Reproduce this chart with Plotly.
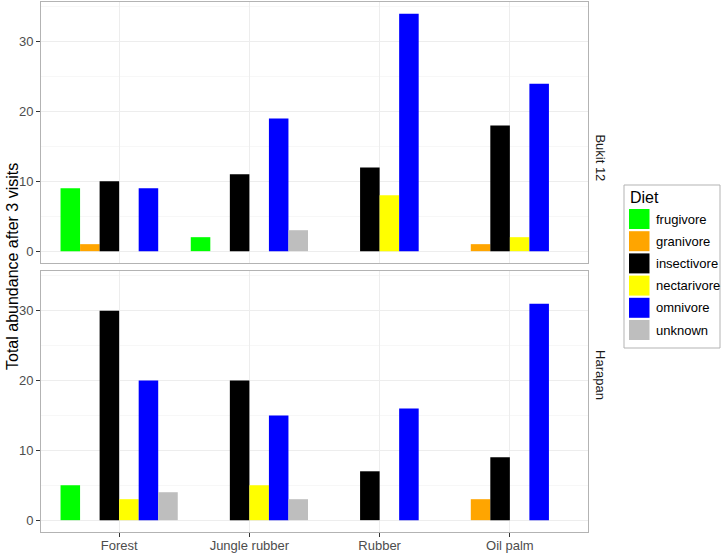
import plotly.graph_objects as go

habitats = ["Forest", "Jungle rubber", "Rubber", "Oil palm"]
diets = ["frugivore", "granivore", "insectivore", "nectarivore", "omnivore", "unknown"]
colors = ["#00FF00", "#FFA500", "#000000", "#FFFF00", "#0000FF", "#BEBEBE"]

# values per diet, ordered by habitats (None = no bar)
bukit12 = {
    "frugivore":   [9, 2, None, None],
    "granivore":   [1, None, None, 1],
    "insectivore": [10, 11, 12, 18],
    "nectarivore": [None, None, 8, 2],
    "omnivore":    [9, 19, 34, 24],
    "unknown":     [None, 3, None, None],
}
harapan = {
    "frugivore":   [5, None, None, None],
    "granivore":   [None, None, None, 3],
    "insectivore": [30, 20, 7, 9],
    "nectarivore": [3, 5, None, None],
    "omnivore":    [20, 15, 16, 31],
    "unknown":     [4, 3, None, None],
}
landscapes = ["Bukit 12", "Harapan"]
legend_title = "Diet"

fig = go.Figure()
for d, c in zip(diets, colors):
    fig.add_trace(go.Bar(x=habitats, y=bukit12[d], name=d, marker=dict(color=c, line=dict(width=0)),
                         xaxis="x", yaxis="y", showlegend=False, offsetgroup=d))
for d, c in zip(diets, colors):
    fig.add_trace(go.Bar(x=habitats, y=harapan[d], name=d, marker=dict(color=c, line=dict(width=0)),
                         xaxis="x2", yaxis="y2", showlegend=False, offsetgroup=d))

W, H = 723, 553
ML, MR, MT, MB = 41, 135, 2, 21
PW, PH = W - ML - MR, H - MT - MB


def px_x(px):
    return (px - ML) / PW


def px_y(py):
    return (H - MB - py) / PH


font = "Liberation Sans, Arial, sans-serif"
yax = dict(range=[-1.7, 35.7], tickvals=[0, 10, 20, 30], ticks="outside", ticklen=4, tickcolor="#333333",
           tickfont=dict(size=13, color="#4D4D4D"), showgrid=True, gridcolor="#EDEDED", gridwidth=1,
           minor=dict(tickvals=[5, 15, 25, 35], showgrid=True, gridcolor="#F7F7F7", ticks=""),
           zeroline=False, showline=True, linecolor="#B3B3B3", linewidth=1, mirror=True, automargin=False)
xax = dict(type="category", categoryorder="array", categoryarray=habitats, range=[-0.6, 3.6],
           showgrid=True, gridcolor="#EDEDED", zeroline=False, showline=True, linecolor="#B3B3B3",
           linewidth=1, mirror=True, automargin=False)

# custom legend (ggplot-style keys)
shapes = [dict(type="rect", xref="paper", yref="paper", x0=px_x(624), x1=px_x(720), y0=px_y(348), y1=px_y(185),
               line=dict(color="#B3B3B3", width=1), fillcolor="white", layer="above")]
annotations = [dict(text=legend_title, xref="paper", yref="paper", x=px_x(628), y=px_y(197), xanchor="left",
                    yanchor="middle", showarrow=False, font=dict(size=16, color="#000000"))]
key_top = 209
key_step = 22.2
for i, (d, c) in enumerate(zip(diets, colors)):
    t = key_top + i * key_step
    shapes.append(dict(type="rect", xref="paper", yref="paper", x0=px_x(629), x1=px_x(649.5),
                       y0=px_y(t + 20), y1=px_y(t), line=dict(width=0), fillcolor=c, layer="above"))
    annotations.append(dict(text=d, xref="paper", yref="paper", x=px_x(654), y=px_y(t + 10), xanchor="left",
                            yanchor="middle", showarrow=False, font=dict(size=13, color="#000000")))

annotations += [
    dict(text=landscapes[0], x=1.0, xref="paper", xanchor="left", xshift=3, y=0.754, yref="paper",
         showarrow=False, textangle=90, font=dict(size=13, color="#1A1A1A")),
    dict(text=landscapes[1], x=1.0, xref="paper", xanchor="left", xshift=3, y=0.246, yref="paper",
         showarrow=False, textangle=90, font=dict(size=13, color="#1A1A1A")),
    dict(text="Total abundance after 3 visits", x=px_x(12), xref="paper", xanchor="center",
         y=0.5, yref="paper", yanchor="middle", showarrow=False, textangle=-90,
         font=dict(size=16, color="#000000")),
]

fig.update_layout(
    width=W, height=H,
    margin=dict(l=ML, r=MR, t=MT, b=MB, autoexpand=False),
    paper_bgcolor="white", plot_bgcolor="white",
    barmode="group", bargap=0.1, bargroupgap=0,
    font=dict(family=font, color="#000000"),
    showlegend=False,
    xaxis=dict(xax, anchor="y", matches="x2", showticklabels=False, ticks=""),
    xaxis2=dict(xax, anchor="y2", ticks="outside", ticklen=4, tickcolor="#333333",
                tickfont=dict(size=13, color="#4D4D4D"), ticklabelstandoff=-3),
    yaxis=dict(yax, domain=[px_y(263), 1.0], anchor="x"),
    yaxis2=dict(yax, domain=[0.0, px_y(271)], anchor="x2"),
    shapes=shapes,
    annotations=annotations,
)
fig.write_html("out.html", config={"displayModeBar": False},
               post_script="document.body.style.margin='0';document.body.style.overflow='hidden';")
